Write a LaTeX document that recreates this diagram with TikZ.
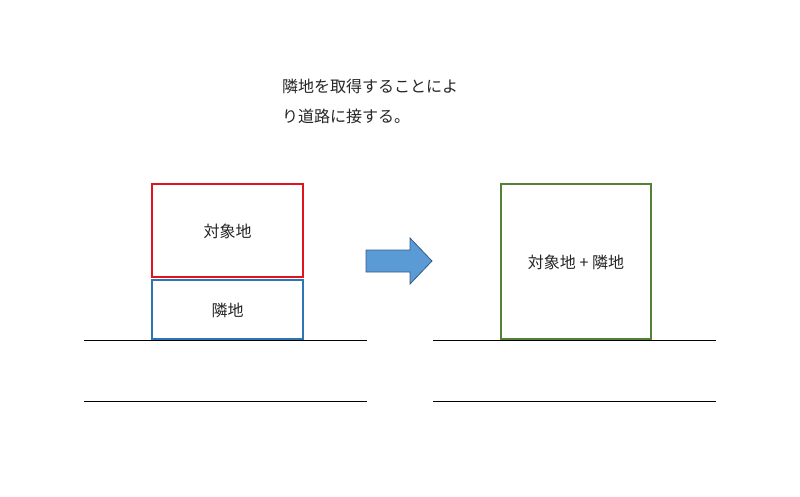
\documentclass[tikz,border=0pt]{standalone}
\usepackage{fontspec}
\newfontfamily\cjk{Noto Sans CJK JP}
\definecolor{cred}{RGB}{225,20,30}
\definecolor{cblue}{RGB}{46,117,182}
\definecolor{cgreen}{RGB}{84,130,53}
\definecolor{afill}{RGB}{91,155,213}
\definecolor{aline}{RGB}{50,90,140}
\begin{document}
\begin{tikzpicture}[x=1pt,y=-1pt,font=\cjk\fontsize{16}{18}\selectfont,
  lbl/.style={text=black!85,inner sep=0pt},
  ground/.style={draw=black,line width=1pt},
  boxr/.style={draw=#1,line width=1.8pt}]
\useasboundingbox (0,0) rectangle (800,496);
\node[lbl,anchor=west] (t1) at (282,86) {隣地を取得することによ};
\node[lbl,anchor=west] (t2) at (282,116) {り道路に接する。};
\draw[boxr=cred] (152,184) rectangle (303,277);
\node[lbl] (a) at (227.5,231) {対象地};
\draw[boxr=cblue] (152,280) rectangle (303,339);
\node[lbl] (b) at (227.5,310) {隣地};
\draw[boxr=cgreen] (501,184) rectangle (651,339);
\node[lbl] (c) at (576,262) {対象地 + 隣地};
\coordinate (l1a) at (84,340); \coordinate (l1b) at (367,340);
\coordinate (l2a) at (84,401); \coordinate (l2b) at (367,401);
\coordinate (r1a) at (433,340); \coordinate (r1b) at (716,340);
\coordinate (r2a) at (433,401); \coordinate (r2b) at (716,401);
\draw[ground] (l1a)--(l1b); \draw[ground] (l2a)--(l2b);
\draw[ground] (r1a)--(r1b); \draw[ground] (r2a)--(r2b);
\draw[fill=afill,draw=aline,line width=0.8pt]
 (366,250)--(410,250)--(410,238)--(432,261)--(410,284)--(410,272)--(366,272)--cycle;
\end{tikzpicture}
\end{document}
